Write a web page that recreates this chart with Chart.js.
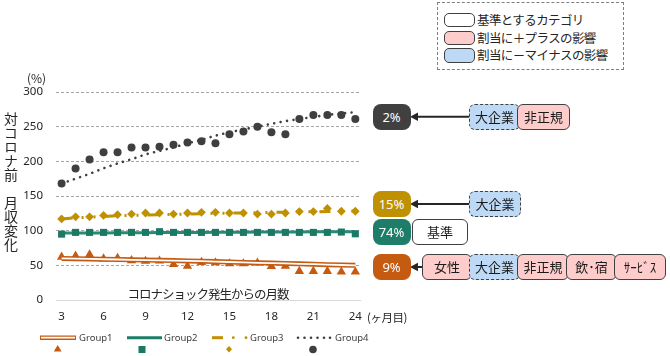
<!DOCTYPE html>
<html>
<head>
<meta charset="utf-8">
<script src="https://cdn.jsdelivr.net/npm/chart.js@4/dist/chart.umd.min.js"></script>
<style>
  html, body { margin:0; padding:0; background:#fff; }
  body { width:670px; height:356px; position:relative; overflow:hidden;
         font-family:"Noto Sans CJK JP","Noto Sans",sans-serif; color:#262626; }
  #c { position:absolute; left:0; top:0; }
  .abs { position:absolute; white-space:nowrap; }
  .badge { position:absolute; width:38px; height:26px; border-radius:8px; color:#fff;
           font:13px "Noto Sans","Noto Sans CJK JP",sans-serif; text-align:center; line-height:26px; }
  .box { position:absolute; height:26px; box-sizing:border-box; border:1px solid #404040;
         border-radius:6px; font-size:13px; text-align:center; line-height:24px; color:#1a1a1a; }
  .pink { background:#FFCCCC; }
  .blue { background:#BDD9F5; border-style:dashed; }
  .white { background:#fff; }
  .icon { position:absolute; left:444px; width:31px; height:14px; box-sizing:border-box;
          border:1px solid #404040; border-radius:5px; }
  .ltxt { position:absolute; left:477px; font-size:12.5px; letter-spacing:-0.6px; line-height:16px; }
  .gl { position:absolute; top:331px; font:9.5px "Noto Sans",sans-serif; color:#404040; line-height:13px; }
</style>
</head>
<body>
<canvas id="c" width="372" height="330" style="width:372px;height:330px"></canvas>

<!-- axis texts -->
<div class="abs" style="left:27px;top:69px;font-size:12px;">(%)</div>
<div class="abs" style="left:4px;top:112px;writing-mode:vertical-rl;text-orientation:upright;font-size:14px;line-height:14px;">対コロナ前　月収変化</div>
<div class="abs" style="left:208px;top:293px;transform:translate(-50%,-50%);font-size:12.5px;letter-spacing:-1px;">コロナショック発生からの月数</div>
<div class="abs" style="left:367px;top:310px;font-size:11.5px;line-height:15px;letter-spacing:-0.5px;">(ヶ月目)</div>

<!-- top legend -->
<div class="abs" style="left:437px;top:2px;width:185px;height:66px;border:1px dashed #7F7F7F;"></div>
<div class="icon white" style="top:13px;"></div>
<div class="icon pink" style="top:30.5px;"></div>
<div class="icon blue" style="top:48px;height:15px;"></div>
<div class="ltxt" style="top:12px;">基準とするカテゴリ</div>
<div class="ltxt" style="top:29.5px;">割当に＋プラスの影響</div>
<div class="ltxt" style="top:47px;">割当に－マイナスの影響</div>

<!-- arrows -->
<svg class="abs" style="left:0;top:0" width="670" height="356">
  <line x1="469" y1="116.7" x2="416" y2="116.7" stroke="#262626" stroke-width="2"/>
  <polygon points="410,116.7 418,112.5 418,121" fill="#262626"/>
  <line x1="469" y1="204" x2="416" y2="204" stroke="#262626" stroke-width="2"/>
  <polygon points="410,204 418,199.8 418,208.2" fill="#262626"/>
  <line x1="423" y1="267" x2="416" y2="267" stroke="#262626" stroke-width="2"/>
  <polygon points="410,267 418,262.8 418,271.2" fill="#262626"/>
  <!-- bottom legend samples -->
  <line x1="40" y1="337.7" x2="76" y2="337.7" stroke="#C55A11" stroke-width="4.5"/>
  <line x1="41" y1="337.7" x2="75" y2="337.7" stroke="#fff" stroke-width="1.8"/>
  <polygon points="57.7,345 61.6,351.5 53.8,351.5" fill="#C55A11"/>
  <line x1="127" y1="337.7" x2="162" y2="337.7" stroke="#1E7D68" stroke-width="3"/>
  <rect x="138.5" y="346" width="7" height="7" fill="#1B7A65"/>
  <line x1="212" y1="337.7" x2="223" y2="337.7" stroke="#BF9000" stroke-width="3"/>
  <circle cx="233.3" cy="337.7" r="1.4" fill="#BF9000"/>
  <circle cx="246" cy="337.7" r="1.4" fill="#BF9000"/>
  <polygon points="229,346 232,349.3 229,352.6 226,349.3" fill="#BF9000"/>
  <circle cx="298" cy="337.7" r="1.3" fill="#3F3F3F"/>
  <circle cx="304.5" cy="337.7" r="1.3" fill="#3F3F3F"/>
  <circle cx="311" cy="337.7" r="1.3" fill="#3F3F3F"/>
  <circle cx="317.5" cy="337.7" r="1.3" fill="#3F3F3F"/>
  <circle cx="324" cy="337.7" r="1.3" fill="#3F3F3F"/>
  <circle cx="330" cy="337.7" r="1.3" fill="#3F3F3F"/>
  <circle cx="313" cy="349.5" r="3.8" fill="#3F3F3F"/>
</svg>
<div class="gl" style="left:79px;">Group1</div>
<div class="gl" style="left:164px;">Group2</div>
<div class="gl" style="left:250px;">Group3</div>
<div class="gl" style="left:335px;">Group4</div>

<!-- badges & boxes -->
<div class="badge" style="left:372.5px;top:104px;background:#404040;">2%</div>
<div class="box blue" style="left:469px;top:104px;width:51px;">大企業</div>
<div class="box pink" style="left:517px;top:104px;width:53px;">非正規</div>

<div class="badge" style="left:372.5px;top:191px;background:#BF9000;">15%</div>
<div class="box blue" style="left:469px;top:191px;width:52px;">大企業</div>

<div class="badge" style="left:372.5px;top:219px;background:#1E7D68;">74%</div>
<div class="box white" style="left:412px;top:219px;width:56px;">基準</div>

<div class="badge" style="left:372.5px;top:254px;background:#C55A11;">9%</div>
<div class="box pink" style="left:422px;top:254px;width:50px;">女性</div>
<div class="box blue" style="left:469px;top:254px;width:51px;">大企業</div>
<div class="box pink" style="left:517px;top:254px;width:52px;">非正規</div>
<div class="box pink" style="left:566px;top:254px;width:51px;">飲･宿</div>
<div class="box pink" style="left:614px;top:254px;width:52px;">ｻｰﾋﾞｽ</div>

<script>
// ---- data ----
const months = [3,4,5,6,7,8,9,10,11,12,13,14,15,16,17,18,19,20,21,22,23,24];
const xTicks = [3,6,9,12,15,18,21,24];
const yTicks = [0,50,100,150,200,250,300];

const group1 = [62,63.5,65.5,59.5,60.5,57,56,56.5,51.5,49,54.5,54,52.5,52.5,53.5,48.5,49,41.5,41.5,41.5,40.5,40.5];
const group1Trend = [60,59.6,59.2,58.8,58.4,58,57.6,57.2,56.8,56.4,56,55.4,54.8,54.2,53.6,53.2,52.8,52.2,51.6,51,50.5,50];

const group2 = [95,97.5,97.5,97.5,97.5,97.5,97.5,98.5,97.5,97.5,97.5,97.5,97.5,97.5,97.5,97.5,97.5,97.5,97.5,97.5,98,95.5];
const group2Trend = [96.5,96.6,96.7,96.8,96.9,97,97.1,97.2,97.3,97.4,97.5,97.6,97.7,97.8,97.9,98,98.1,98.2,98.3,98.4,98.5,98.6];

const group3 = [117,120,120,122,123,124,125.5,125.5,124,125.5,126.5,126.5,125.5,125.5,124,124,125.5,127.5,127.5,132,128,128];
const group3Trend = [117,118.5,119.5,120.5,121.5,122,122.5,123,123.5,124,124.5,125,125.3,125.6,126,126.3,126.6,127,127.3,127.6,128,128.3];

const group4 = [168,189.5,202.5,213,213,220,220,221,224,227,229,226,239,243,250,242,239,261,267,267,267,261];
const group4Trend = [168,175,182,190,197,203,210,215,220,226,231,237,242,246,250,254,258,261,264,267,269,271];

const pts = arr => arr.map((v, i) => ({ x: months[i], y: v }));

Chart.defaults.font.family = '"Noto Sans","Noto Sans CJK JP",sans-serif';
Chart.defaults.color = '#262626';

const lineBase = { showLine: true, pointRadius: 0, pointHoverRadius: 0, tension: 0, fill: false };

new Chart(document.getElementById('c').getContext('2d'), {
  type: 'scatter',
  data: {
    datasets: [
      { label: 'Group1', data: pts(group1), pointStyle: 'triangle', pointRadius: 5.4,
        backgroundColor: '#C55A11', borderColor: '#C55A11', borderWidth: 0, order: 5 },
      Object.assign({ label: 'Group1 trend', data: pts(group1Trend), borderColor: '#C55A11', borderWidth: 5, order: 2 }, lineBase),
      Object.assign({ label: 'Group1 trend inner', data: pts(group1Trend), borderColor: '#ffffff', borderWidth: 1.8, order: 1 }, lineBase),

      Object.assign({ label: 'Group2 trend', data: pts(group2Trend), borderColor: '#2A8A74', borderWidth: 3, order: 8 }, lineBase),
      { label: 'Group2', data: pts(group2), pointStyle: 'rect', pointRadius: 5,
        backgroundColor: '#1B7A65', borderColor: '#1B7A65', borderWidth: 0, order: 3 },

      Object.assign({ label: 'Group3 trend', data: pts(group3Trend), borderColor: '#BF9000', borderWidth: 3,
        borderDash: [11, 9, 2, 10, 2, 9], order: 4 }, lineBase),
      { label: 'Group3', data: pts(group3), pointStyle: 'rectRot', pointRadius: 4.4,
        backgroundColor: '#BF9000', borderColor: '#BF9000', borderWidth: 0, order: 3 },

      Object.assign({ label: 'Group4 trend', data: pts(group4Trend), borderColor: '#3F3F3F', borderWidth: 2.6,
        borderDash: [0.01, 6.5], borderCapStyle: 'round', order: 4 }, lineBase),
      { label: 'Group4', data: pts(group4), pointStyle: 'circle', pointRadius: 4,
        backgroundColor: '#3F3F3F', borderColor: '#3F3F3F', borderWidth: 0, order: 3 }
    ]
  },
  options: {
    responsive: false,
    animation: false,
    devicePixelRatio: 1,
    events: [],
    layout: { padding: { top: 92, right: 2, left: 0, bottom: 0 } },
    plugins: { legend: { display: false }, tooltip: { enabled: false } },
    scales: {
      x: {
        type: 'linear', min: 2.6, max: 24.4,
        afterBuildTicks: s => { s.ticks = xTicks.map(v => ({ value: v })); },
        afterFit: s => { s.height = 30; },
        grid: { display: false, drawTicks: false },
        border: { display: true, color: '#D9D9D9', width: 1 },
        ticks: { padding: 10, color: '#262626', font: { size: 11.5 }, maxRotation: 0, autoSkip: false,
                 callback: v => String(v) }
      },
      y: {
        min: 0, max: 300,
        afterBuildTicks: s => { s.ticks = yTicks.map(v => ({ value: v })); },
        afterFit: s => { s.width = 56; },
        grid: { color: c => (c.tick && c.tick.value === 0) ? 'rgba(0,0,0,0)' : '#A6A6A6', drawTicks: false, lineWidth: 1 },
        border: { display: false, dash: [3, 2] },
        ticks: { padding: 13, color: '#262626', font: { size: 11.5 }, callback: v => String(v) }
      }
    }
  }
});
</script>
</body>
</html>
